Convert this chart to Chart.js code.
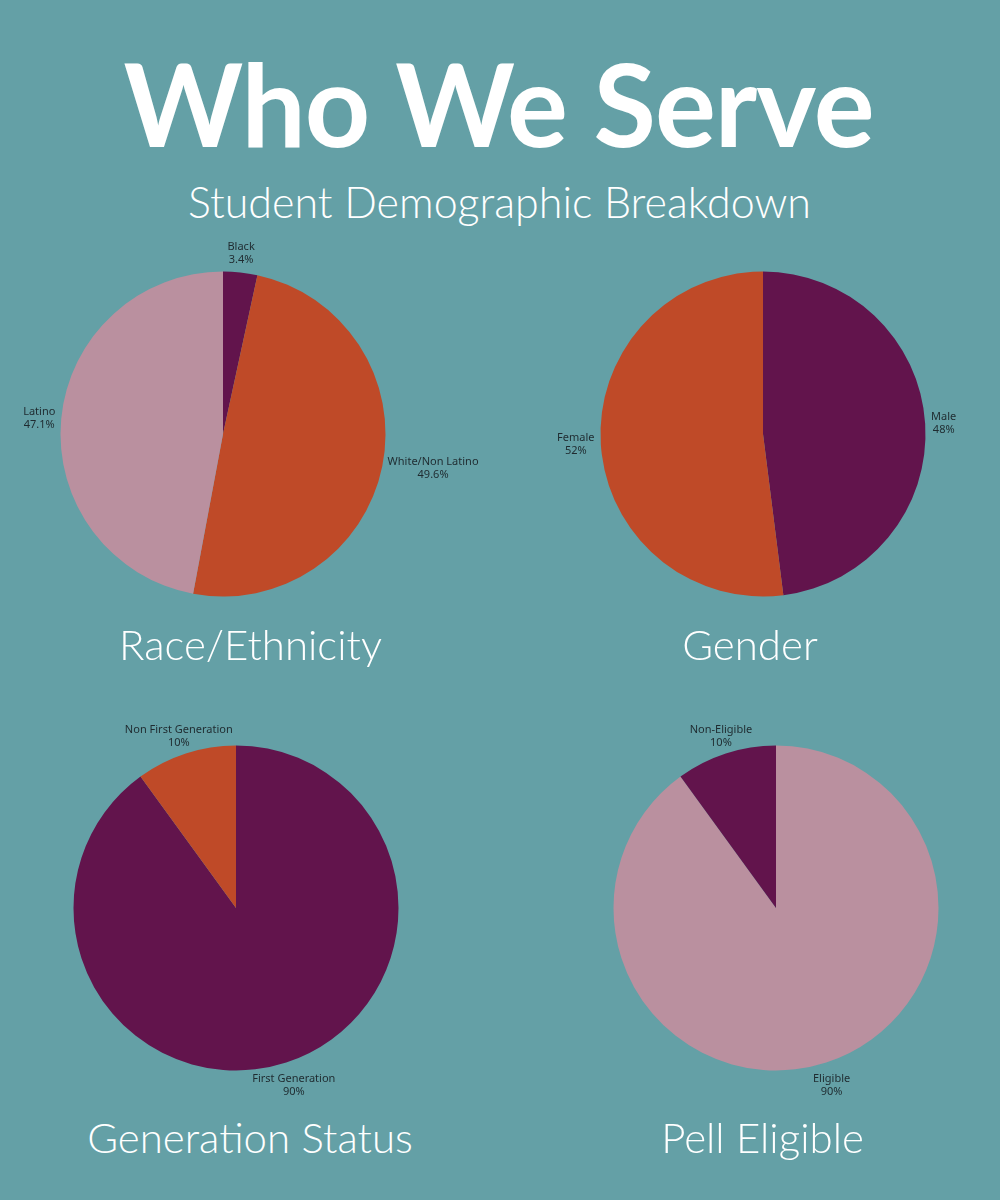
<!DOCTYPE html>
<html>
<head>
<meta charset="utf-8">
<script src="https://cdn.jsdelivr.net/npm/chart.js@4"></script>
<style>
  html, body { margin: 0; padding: 0; }
  body {
    width: 1000px; height: 1200px; overflow: hidden; position: relative;
    background: #64a0a6; font-family: Lato, "Open Sans", sans-serif; color: #fff;
  }
  .txt { position: absolute; text-align: center; white-space: nowrap; line-height: 1; }
  #title { left: 0; width: 997px; top: 46px; font-size: 114px; font-weight: 700; letter-spacing: -1px; }
  #subtitle { left: 0; width: 999px; top: 180px; font-size: 43px; font-weight: 300; }
  .cat { font-size: 42px; font-weight: 300; width: 500px; }
  .box { position: absolute; width: 560px; height: 400px; }
</style>
</head>
<body>
<div id="title" class="txt">Who We Serve</div>
<div id="subtitle" class="txt">Student Demographic Breakdown</div>

<div class="box" style="left:-57.5px; top:234px;"><canvas id="raceChart" width="560" height="400"></canvas></div>
<div class="box" style="left:482.5px; top:234px;"><canvas id="genderChart" width="560" height="400"></canvas></div>
<div class="box" style="left:-44.5px; top:708px;"><canvas id="genChart" width="560" height="400"></canvas></div>
<div class="box" style="left:495.5px; top:708px;"><canvas id="pellChart" width="560" height="400"></canvas></div>

<div class="txt cat" style="left:0.5px; top:623px;">Race/Ethnicity</div>
<div class="txt cat" style="left:500px; top:623px;">Gender</div>
<div class="txt cat" style="left:0px; top:1116px;">Generation Status</div>
<div class="txt cat" style="left:512.5px; top:1116px;">Pell Eligible</div>

<script>
// data, slices go clockwise from 12 o'clock
const raceLabels = ["Black", "White/Non Latino", "Latino"];
const raceValues = [3.4, 49.6, 47.1];

const genderLabels = ["Male", "Female"];
const genderValues = [48, 52];

const genLabels = ["First Generation", "Non First Generation"];
const genValues = [90, 10];

const pellLabels = ["Eligible", "Non-Eligible"];
const pellValues = [90, 10];

const purple = "#62144c";
const orange = "#bf4a28";
const pink = "#ba909f";

// labels outside each slice, "Name" over "xx%"
const outsideLabels = {
    id: "outsideLabels",
    afterDatasetsDraw(chart) {
        const ctx = chart.ctx;
        const meta = chart.getDatasetMeta(0);
        const values = chart.data.datasets[0].data;
        ctx.save();
        ctx.font = "11px 'Noto Sans', sans-serif";
        ctx.fillStyle = "#1f2b30";
        ctx.textAlign = "center";
        ctx.textBaseline = "middle";
        meta.data.forEach(function (arc, i) {
            const p = arc.getProps(["x", "y", "startAngle", "endAngle", "outerRadius"], true);
            const mid = (p.startAngle + p.endAngle) / 2;
            const dx = Math.cos(mid), dy = Math.sin(mid);
            const lines = [chart.data.labels[i], values[i] + "%"];
            const w = Math.max(...lines.map(t => ctx.measureText(t).width));
            const lh = 13;
            const h = lh * lines.length;
            // a bit more room below the pie than above it
            const r = p.outerRadius + (dy > 0 ? 6 + 6 * dy : 6);
            const cx = p.x + r * dx + dx * Math.abs(dx) * w / 2;
            const cy = p.y + r * dy + dy * Math.abs(dy) * h / 2;
            lines.forEach(function (t, k) {
                ctx.fillText(t, cx, cy - h / 2 + lh / 2 + k * lh);
            });
        });
        ctx.restore();
    }
};

function makePie(id, labels, values, colors) {
    const ctx = document.getElementById(id).getContext("2d");
    return new Chart(ctx, {
        type: "pie",
        data: {
            labels: labels,
            datasets: [{
                data: values,
                backgroundColor: colors,
                borderWidth: 0,
            }],
        },
        options: {
            responsive: false,
            animation: false,
            layout: { padding: { left: 117.5, right: 117.5, top: 37.5, bottom: 37.5 } },
            plugins: {
                legend: { display: false },
                tooltip: { enabled: false },
            },
        },
        plugins: [outsideLabels],
    });
}

makePie("raceChart", raceLabels, raceValues, [purple, orange, pink]);
makePie("genderChart", genderLabels, genderValues, [purple, orange]);
makePie("genChart", genLabels, genValues, [purple, orange]);
makePie("pellChart", pellLabels, pellValues, [pink, purple]);
</script>
</body>
</html>
